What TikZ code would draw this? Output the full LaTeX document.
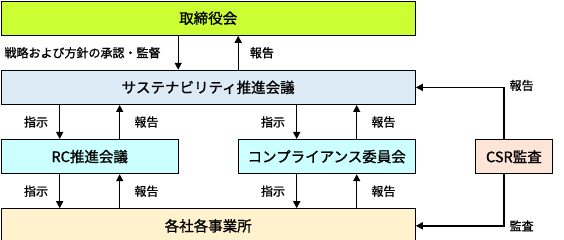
\documentclass[tikz,border=0pt]{standalone}
\usepackage{fontspec}
\setmainfont{Noto Sans CJK JP}[BoldFont={Noto Sans CJK JP}, BoldFeatures={FakeBold=1.2}]
\usetikzlibrary{positioning, arrows.meta}
\definecolor{boardgreen}{HTML}{CCFF33}
\definecolor{susblue}{HTML}{DDEBF7}
\definecolor{comcyan}{HTML}{CCFFFF}
\definecolor{auditpeach}{HTML}{FCE4D6}
\definecolor{sitecream}{HTML}{FFF2CC}
\tikzset{
  box/.style={draw, line width=1.2pt, minimum height=34pt, inner sep=0pt,
    font=\fontsize{14.5}{17}\selectfont\bfseries},
  widebox/.style={box, minimum width=414pt},
  halfbox/.style={box, minimum width=177pt},
  lbl/.style={font=\fontsize{12}{14}\selectfont\bfseries, inner sep=1pt},
  arr/.style={-{Triangle[length=7pt, width=7pt]}, line width=1.4pt},
}

\begin{document}
\begin{tikzpicture}[node distance=34pt]
      \useasboundingbox (0,0) rectangle (564pt,-240pt);
      \node (board) [widebox, fill=boardgreen, anchor=north west] at (0.6pt,-0.6pt) {取締役会};
      \node (sus) [widebox, fill=susblue, below=of board] {サステナビリティ推進会議};
      \node (rc) [halfbox, fill=comcyan, below right=34pt and 0pt of sus.south west] {RC推進会議};
      \node (comp) [halfbox, fill=comcyan, below left=34pt and 0pt of sus.south east] {コンプライアンス委員会};
      \node (csr) [box, minimum width=77pt, fill=auditpeach, right=59pt of comp] {CSR監査};
      \node (site) [widebox, fill=sitecream, below right=34pt and 0pt of rc.south west] {各社各事業所};
      % board <-> sus
      \draw[arr] ([xshift=-30pt]board.south) -- node[lbl, left=16pt] {戦略および方針の承認・監督} ([xshift=-30pt]sus.north);
      \draw[arr] ([xshift=30pt]sus.north) -- node[lbl, right=10pt] {報告} ([xshift=30pt]board.south);
      % sus <-> committees <-> site
      \coordinate (rcin) at ([xshift=-30pt]rc.north);
      \coordinate (rcout) at ([xshift=30pt]rc.north);
      \coordinate (cpin) at ([xshift=-30pt]comp.north);
      \coordinate (cpout) at ([xshift=30pt]comp.north);
      \draw[arr] (rcin |- sus.south) -- node[lbl, left=10pt] {指示} (rcin);
      \draw[arr] (rcout) -- node[lbl, right=13pt] {報告} (rcout |- sus.south);
      \draw[arr] (cpin |- sus.south) -- node[lbl, left=10pt] {指示} (cpin);
      \draw[arr] (cpout) -- node[lbl, right=13pt] {報告} (cpout |- sus.south);
      \draw[arr] (rcin |- rc.south) -- node[lbl, left=10pt] {指示} (rcin |- site.north);
      \draw[arr] (rcout |- site.north) -- node[lbl, right=13pt] {報告} (rcout |- rc.south);
      \draw[arr] (cpin |- comp.south) -- node[lbl, left=10pt] {指示} (cpin |- site.north);
      \draw[arr] (cpout |- site.north) -- node[lbl, right=13pt] {報告} (cpout |- comp.south);
      % audit
      \draw[arr] ([xshift=-10pt]csr.north) |- node[lbl, pos=0.5, right=4pt, yshift=2pt] {報告} (sus.east);
      \draw[arr] ([xshift=-10pt]csr.south) |- node[lbl, pos=0.5, right=4pt] {監査} (site.east);
    \end{tikzpicture}
\end{document}
